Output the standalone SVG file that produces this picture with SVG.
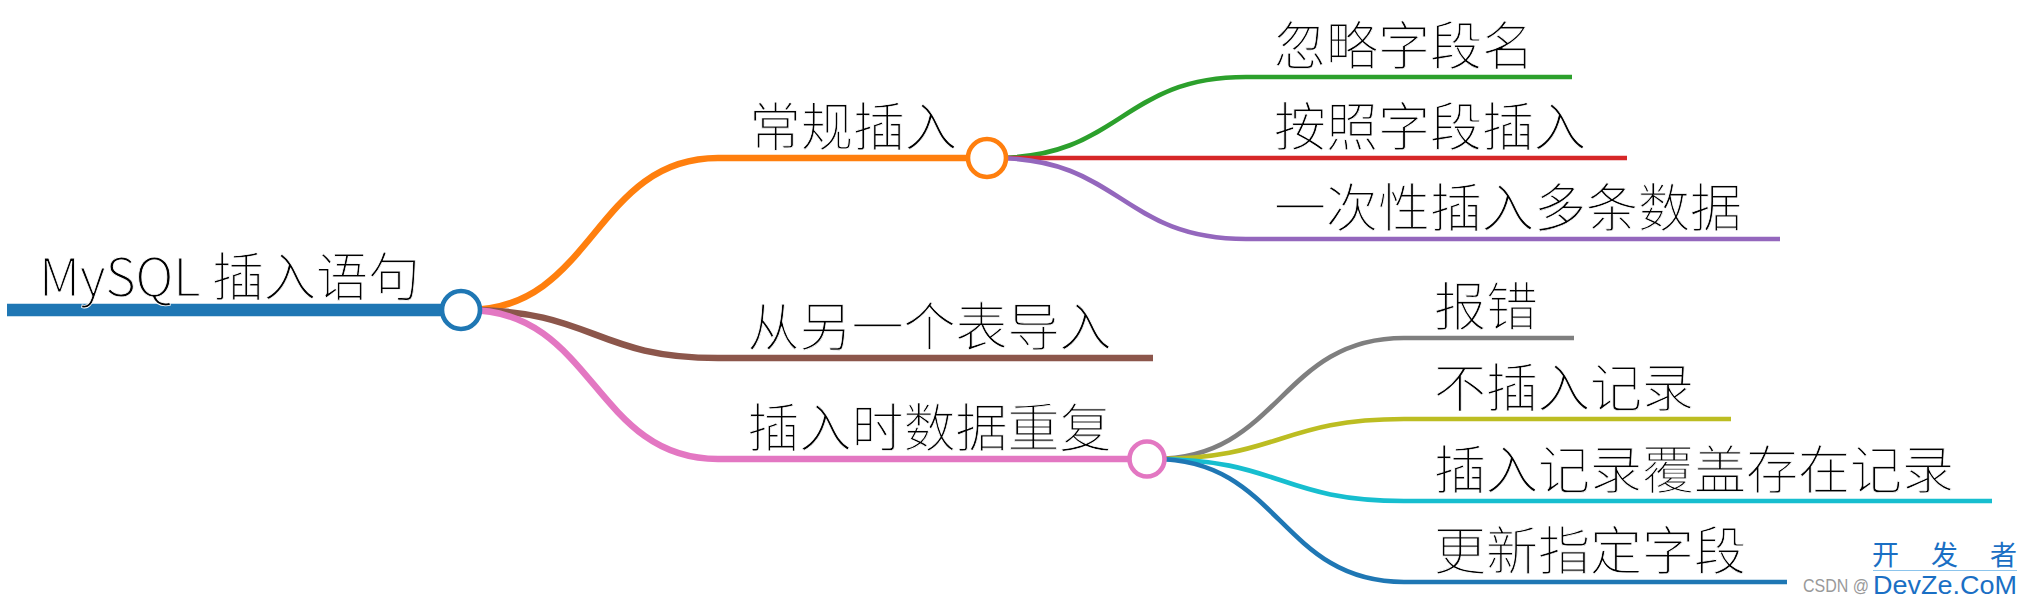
<svg xmlns="http://www.w3.org/2000/svg" width="2029" height="605" viewBox="0 0 2029 605">
<style>
.t{font-family:"Noto Sans CJK SC Light","Noto Sans CJK SC DemiLight","Noto Sans CJK SC","Noto Sans",sans-serif;font-size:52px;font-weight:300;fill:#000;stroke:#fff;stroke-width:0.8px;paint-order:normal}
.l1{fill:none;stroke-width:6.5;stroke-linecap:butt}
.l2{fill:none;stroke-width:4.7;stroke-linecap:butt}
.c{fill:#fff;stroke-width:4.6}
</style>
<rect width="2029" height="605" fill="#fff"/>
<g id="connectors">
<path class="l1" stroke="#ff7f0e" d="M468,310 C594,310 594,158 718,158 H987"/>
<path class="l1" stroke="#8c564b" d="M468,310 C594,310 594,358 718,358 H1153"/>
<path class="l1" stroke="#e377c2" d="M468,310 C594,310 594,459 718,459 H1147"/>
<path class="l2" stroke="#2ca02c" d="M995,158 C1121,158 1121,77 1246,77 H1572"/>
<path class="l2" stroke="#d62728" d="M995,158 H1627"/>
<path class="l2" stroke="#9467bd" d="M995,158 C1121,158 1121,239 1246,239 H1780"/>
<path class="l2" stroke="#7f7f7f" d="M1155,459 C1280,459 1280,338 1404,338 H1574"/>
<path class="l2" stroke="#bcbd22" d="M1155,459 C1280,459 1280,419 1404,419 H1731"/>
<path class="l2" stroke="#17becf" d="M1155,459 C1280,459 1280,501 1404,501 H1992"/>
<path class="l2" stroke="#1f77b4" d="M1155,459 C1280,459 1280,582 1404,582 H1787"/>
</g>
<g id="root">
<line x1="7" y1="310" x2="461" y2="310" stroke="#1f77b4" stroke-width="12.7"/>
<circle class="c" cx="461" cy="310" r="19" stroke="#1f77b4"/>
<text class="t" x="39" y="296">MySQL 插入语句</text>
</g>
<g id="n-regular">
<circle class="c" cx="987" cy="158" r="19" stroke="#ff7f0e"/>
<text class="t" x="749" y="146">常规插入</text>
</g>
<g id="n-ignore"><text class="t" x="1274" y="65">忽略字段名</text></g>
<g id="n-byfield"><text class="t" x="1274" y="146">按照字段插入</text></g>
<g id="n-multi"><text class="t" x="1274" y="227">一次性插入多条数据</text></g>
<g id="n-fromtable"><text class="t" x="747.5" y="346">从另一个表导入</text></g>
<g id="n-dup">
<circle class="c" cx="1147" cy="459" r="17.5" stroke="#e377c2"/>
<text class="t" x="747.5" y="447">插入时数据重复</text>
</g>
<g id="n-error"><text class="t" x="1434" y="326">报错</text></g>
<g id="n-noinsert"><text class="t" x="1434" y="407">不插入记录</text></g>
<g id="n-overwrite"><text class="t" x="1434" y="489">插入记录覆盖存在记录</text></g>
<g id="n-update"><text class="t" x="1434" y="570">更新指定字段</text></g>
<g id="watermark">
<text x="1803" y="592" font-family="Liberation Sans, sans-serif" font-size="18" fill="#999" textLength="66" lengthAdjust="spacingAndGlyphs">CSDN @</text>
<text x="1872" y="565" font-family="Noto Sans CJK SC, sans-serif" font-size="27" fill="#1a6fc4" textLength="145" lengthAdjust="spacing">开 发 者</text>
<line x1="1873" y1="570.5" x2="2017" y2="570.5" stroke="#8cc4ec" stroke-width="1"/>
<text x="1873" y="594" font-family="Liberation Sans, sans-serif" font-size="26" fill="#1a6fc4" textLength="144" lengthAdjust="spacingAndGlyphs">DevZe.CoM</text>
</g>
</svg>
